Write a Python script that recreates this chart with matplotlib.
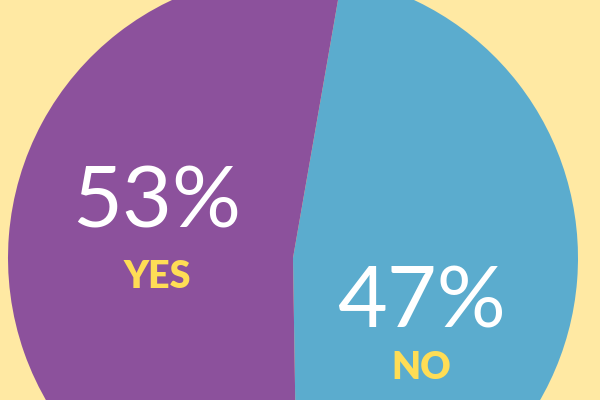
import matplotlib
matplotlib.use("Agg")
import matplotlib.pyplot as plt

labels = ["NO", "YES"]
values = [47, 53]
colors = ["#5BACCE", "#8C519C"]
pct_labels = ["47%", "53%"]

fig = plt.figure(figsize=(6, 4), dpi=100)
fig.patch.set_facecolor("#FFE9A3")
ax = fig.add_axes([0, 0, 1, 1])

ax.pie(values, colors=colors, center=(293, 142), radius=285,
       startangle=80.1, counterclock=False, frame=True,
       wedgeprops=dict(linewidth=0))
ax.set_xlim(0, 600)
ax.set_ylim(0, 400)
ax.set_aspect("equal")
ax.axis("off")

pos = {"NO": (421, 96, 32), "YES": (157, 196, 123)}
for lab, pct in zip(labels, pct_labels):
    x, y, y2 = pos[lab]
    ax.text(x, y, pct, color="white", fontsize=62, family="Lato", weight="normal",
            ha="center", va="center")
    ax.text(x, y2, lab, color="#FFDD55", fontsize=27, family="Lato", weight="heavy",
            ha="center", va="center")

fig.savefig("out.png", dpi=100, facecolor=fig.get_facecolor())
